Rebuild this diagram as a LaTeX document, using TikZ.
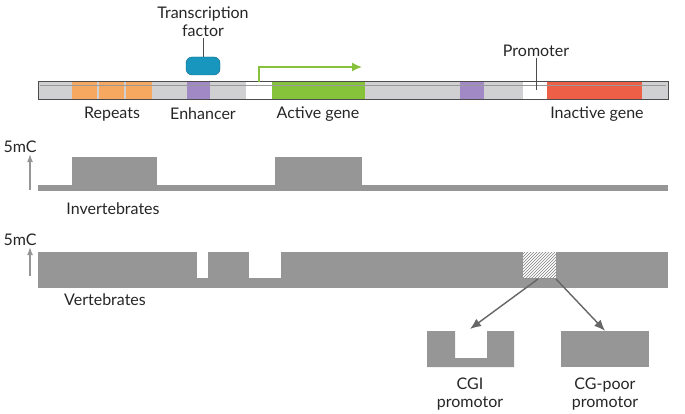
\documentclass[tikz,border=0pt]{standalone}
\usepackage{fontspec}
\setmainfont{Lato}
\usepackage{tikz}
\usetikzlibrary{arrows.meta, patterns, positioning}
\definecolor{dgr}{RGB}{150,150,150}
\definecolor{lgr}{RGB}{208,208,210}
\definecolor{orn}{RGB}{246,168,96}
\definecolor{prp}{RGB}{160,137,196}
\definecolor{grn}{RGB}{134,194,58}
\definecolor{rd}{RGB}{238,95,72}
\definecolor{tf}{RGB}{24,150,190}
\begin{document}
\begin{tikzpicture}[x=1pt, y=-1pt, font=\fontsize{16}{18}\selectfont,
  seg/.style={draw=none},
  lbl/.style={inner sep=1pt, text=black!85},
  mc/.style={-{Latex[length=8pt,width=6pt]}, dgr, line width=1.4pt},
  split/.style={-{Latex[length=11pt,width=9pt]}, black!60, line width=1.4pt}]
  \useasboundingbox (0,0) rectangle (685,414);
  % chromosome
  \fill[lgr] (38,82) rectangle (668,100);
  \foreach \a/\b in {72/97, 99/124, 126/152} \fill[orn] (\a,82) rectangle (\b,100);
  \fill[prp] (187,82) rectangle (210,100);
  \fill[white] (246,82) rectangle (272,100);
  \fill[grn] (272,82) rectangle (365,100);
  \fill[prp] (460,82) rectangle (484,100);
  \fill[white] (523,82) rectangle (547,100);
  \fill[rd] (547,82) rectangle (642,100);
  \draw[black!70, line width=1pt] (38,82) rectangle (668,100);
  \draw[black!40] (40,85) -- (666,85);
  % factor and promoter
  \node[lbl, align=center] (TF) at (203,22) {Transcription\\factor};
  \node[fill=tf, draw=tf!70!black, rounded corners=6pt, minimum width=34pt, minimum height=18pt] (F) at (203,66) {};
  \draw[black!70, line width=1pt] (TF.south) -- (F.north);
  \node[lbl] (P) at (536,51) {Promoter};
  \coordinate (Pin) at (536,90);
  \draw[black!70, line width=1pt] (P.south) -- (Pin);
  \coordinate (tss) at (259,82);
  \coordinate (tse) at (362,67);
  \draw[grn, line width=1.6pt, -{Latex[length=10pt,width=9pt]}] (tss) |- (tse);
  \node[lbl] (rep) at (112,114) {Repeats};
  \node[lbl] (enh) at (203,114) {Enhancer};
  \node[lbl] (act) at (318,114) {Active gene};
  \node[lbl] (ina) at (597,114) {Inactive gene};
  % invertebrates
  \fill[dgr] (38,185) rectangle (668,191);
  \fill[dgr] (72,157) rectangle (157,191);
  \fill[dgr] (275,157) rectangle (362,191);
  \node[lbl] (m1) at (20,147) {5mC};
  \coordinate (m1a) at (30,190);
  \draw[mc] (m1a) -- (m1.south -| m1a);
  \node[lbl] (inv) at (113,209) {Invertebrates};
  % vertebrates
  \fill[dgr] (38,252) rectangle (668,288);
  \fill[white] (197,252) rectangle (208,278);
  \fill[white] (249,252) rectangle (281,278);
  \fill[white] (523,252) rectangle (556,278);
  \node[seg, pattern=north east lines, pattern color=black!50, minimum width=33pt, minimum height=26pt, inner sep=0pt] (H) at (539.5,265) {};
  \node[lbl] (m2) at (20,240) {5mC};
  \coordinate (m2a) at (30,276);
  \draw[mc] (m2a) -- (m2.south -| m2a);
  \node[lbl] (ver) at (105,300) {Vertebrates};
  % promoters
  \fill[dgr] (427,331) -- (455,331) -- (455,358) -- (487,358) -- (487,331) -- (514,331) -- (514,367) -- (427,367) -- cycle;
  \node[seg, fill=dgr, minimum width=88pt, minimum height=36pt] (CP) at (605,349) {};
  \coordinate (CGI) at (470,329);
  \coordinate (Hl) at (538,279);
  \coordinate (Hr) at (556,279);
  \draw[split] (Hl) -- (CGI);
  \draw[split] (Hr) -- (CP.north);
  \node[lbl, align=center] (cgil) at (470,394) {CGI\\promotor};
  \node[lbl, align=center] (cpl) at (605,394) {CG-poor\\promotor};
\end{tikzpicture}
\end{document}
